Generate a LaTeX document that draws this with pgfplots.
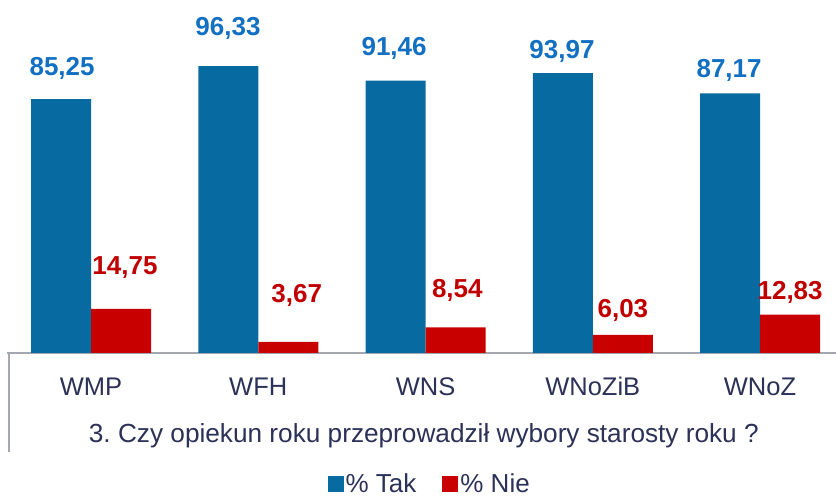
\documentclass[border=0pt]{standalone}
\usepackage{pgfplots}
\pgfplotsset{compat=1.18}
\usepackage{fontspec}
\setmainfont{Liberation Sans}
\frenchspacing
\definecolor{barblue}{HTML}{076BA2}
\definecolor{barred}{HTML}{C80000}
\definecolor{lblblue}{HTML}{1270C2}
\definecolor{lblred}{HTML}{C00000}
\definecolor{navy}{HTML}{2B3157}
\definecolor{axgray}{HTML}{A4A6B0}

\begin{document}
\begin{tikzpicture}
  \useasboundingbox (-7.4pt,-146.1pt) rectangle (828.6pt,352.9pt);
  \begin{axis}[
      at={(0,0)}, anchor=south west,
      scale only axis,
      width=836.25pt, height=352.9pt,
      xmin=-0.5, xmax=4.5,
      ymin=0, ymax=118.5,
      ybar=0pt, bar width=60pt,
      axis x line=bottom, axis y line=none,
      x axis line style={axgray, line width=1.2pt, -},
      xtick={0,1,2,3,4},
      xticklabels={WMP,WFH,WNS,WNoZiB,WNoZ},
      major tick length=0pt,
      xticklabel style={anchor=base, yshift=-43pt, text=navy,
        font=\fontsize{25.5}{30}\selectfont},
      xlabel={3. Czy opiekun roku przeprowadził wybory starosty roku ?},
      xlabel style={at={(axis description cs:0.498,-0.255)}, anchor=base,
        text=navy, font=\fontsize{26.2}{30}\selectfont},
      legend columns=2,
      legend style={draw=none, fill=none, at={(0.505,-0.372)}, anchor=center,
        font=\fontsize{26}{30}\selectfont, text=navy,
        /tikz/every even column/.append style={column sep=24pt}},
      legend image code/.code={\fill[#1] (0pt,-8pt) rectangle (16pt,8pt);},
      clip=false,
    ]
    \addplot[fill=barblue, draw=none] coordinates {
      (0,85.25) (1,96.33) (2,91.46) (3,93.97) (4,87.17)};
    \addplot[fill=barred, draw=none] coordinates {
      (0,14.75) (1,3.67) (2,8.54) (3,6.03) (4,12.83)};
    \legend{\% Tak, \% Nie}

    % data labels (positions follow the reference)
    \begin{scope}[every node/.style={anchor=base, inner sep=0pt,
        font=\fontsize{26}{30}\selectfont\bfseries}]
      \node[text=lblblue] at (axis cs:-0.173,93.3) {85,25};
      \node[text=lblblue] at (axis cs:0.819,106.7) {96,33};
      \node[text=lblblue] at (axis cs:1.812,99.9) {91,46};
      \node[text=lblblue] at (axis cs:2.816,98.9) {93,97};
      \node[text=lblblue] at (axis cs:3.815,92.6) {87,17};
      \node[text=lblred] at (axis cs:0.203,26.2) {14,75};
      \node[text=lblred] at (axis cs:1.23,16.8) {3,67};
      \node[text=lblred] at (axis cs:2.19,18.5) {8,54};
      \node[text=lblred] at (axis cs:3.18,11.8) {6,03};
      \node[text=lblred] at (axis cs:4.18,18.1) {12,83};
    \end{scope}
    \draw[axgray, line width=1.2pt] (rel axis cs:0.002,0) -- ([yshift=-99pt]rel axis cs:0.002,0);
  \end{axis}
\end{tikzpicture}
\end{document}
